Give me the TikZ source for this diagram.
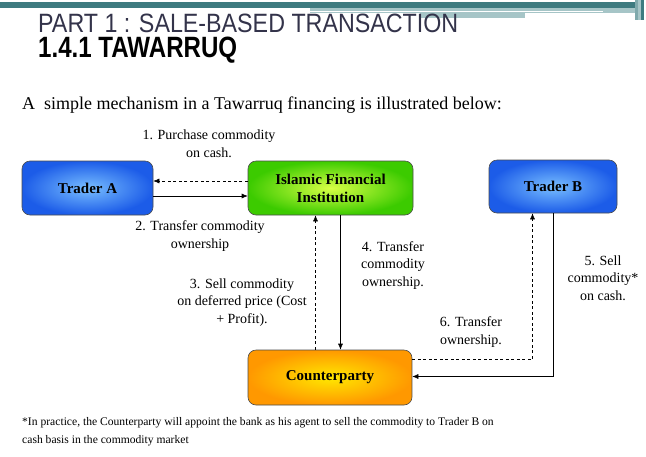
\documentclass[tikz,border=0pt]{standalone}
\usepackage{fontspec}
\setmainfont{Liberation Serif}
\newfontfamily\titlefont{Liberation Sans}
\usetikzlibrary{arrows.meta,decorations.pathmorphing}
\definecolor{tealdark}{HTML}{3E7B80}
\definecolor{teallight}{HTML}{A6C5C7}
\definecolor{tealmid}{HTML}{7FA9AC}
\definecolor{titlegray}{HTML}{33334A}
\definecolor{blueout}{HTML}{1C5CE8}
\definecolor{bluein}{HTML}{78BEFF}
\definecolor{greenout}{HTML}{3CCB00}
\definecolor{greenin}{HTML}{D8FF45}
\definecolor{orangeout}{HTML}{FF9800}
\definecolor{orangein}{HTML}{FFE800}
\newlength\introA
\newlength\introB
\newcommand\introfont{\fontsize{18}{20}\selectfont}
\tikzset{
  box/.style={draw=black!70, line width=0.6pt, rounded corners=8pt, align=center,
    font=\bfseries\fontsize{15}{18}\selectfont, inner sep=0pt},
  bluebox/.style={box, inner color=bluein, outer color=blueout},
  greenbox/.style={box, inner color=greenin, outer color=greenout},
  orangebox/.style={box, inner color=orangein, outer color=orangeout},
  arr/.style={-{Latex[length=6pt,width=5pt]}, line width=0.6pt},
  dasharr/.style={arr, dash pattern=on 3pt off 2.5pt},
  lbl/.style={font=\fontsize{14}{17.5}\selectfont, align=center, inner sep=0pt, anchor=base},
}
\begin{document}
\begin{tikzpicture}[x=1pt,y=-1pt]
\useasboundingbox (0,0) rectangle (646,456);
\fill[white] (0,0) rectangle (646,456);
% top band
\fill[tealdark] (0,2) rectangle (640,8);
\fill[teallight] (310,8) rectangle (640,13);
\fill[white] (310,10.5) rectangle (603,12);
\fill[teallight] (420,13) rectangle (525,18);
\fill[tealmid] (635,0) rectangle (638,20);
\fill[teallight] (638,0) rectangle (641,20);
\fill[tealdark] (641,0) rectangle (644,20);
% titles
\node[anchor=base west, inner sep=0pt, text=titlegray] (t1) at (38,32)
  {\resizebox{420pt}{18.5pt}{\titlefont PART 1 : SALE-BASED TRANSACTION}};
\node[anchor=base west, inner sep=0pt, text=black] (t2) at (38,57.5)
  {\resizebox{199pt}{20.5pt}{\titlefont\bfseries 1.4.1 TAWARRUQ}};
\settowidth\introA{\introfont A\ \ simple mechanism in a }
\settowidth\introB{\introfont Tawarruq}
\node[anchor=base west, inner sep=0pt, font=\introfont] (intro) at (22,109)
  {A\ \ simple mechanism in a Tawarruq financing is illustrated below:};
\draw[red, line width=0.5pt, decorate, decoration={snake, amplitude=0.6pt, segment length=2.5pt}]
  ([xshift=\introA, yshift=-4pt]intro.base west) -- ++(\introB,0pt);
% boxes
\node[bluebox, minimum width=131pt, minimum height=54pt] (ta) at (87.5,188) {Trader A};
\node[greenbox, minimum width=165pt, minimum height=54pt] (ifi) at (330.5,188) {Islamic Financial\\Institution};
\node[bluebox, minimum width=128pt, minimum height=53pt] (tb) at (553,186.5) {Trader B};
\node[orangebox, minimum width=164pt, minimum height=55pt] (cp) at (330,377.5) {Counterparty};
% helper coordinates
\coordinate (x3) at (315.5,0);
\coordinate (x4) at (340.5,0);
\coordinate (x6) at (532.5,0);
% connectors
\draw[dasharr] ([yshift=7pt]ifi.west) -- ([yshift=7pt]ta.east);
\draw[arr] ([yshift=-8pt]ta.east) -- ([yshift=-8pt]ifi.west);
\draw[dasharr] (cp.north -| x3) -- (ifi.south -| x3);
\draw[arr] (ifi.south -| x4) -- (cp.north -| x4);
\draw[arr] (tb.south) |- ([yshift=1pt]cp.east);
\draw[dasharr] ([yshift=18pt]cp.east) -| (tb.south -| x6);
% labels (anchor = baseline of last line)
\node[lbl] (l1) at (209,157) {1. Purchase commodity\\on cash.};
\node[lbl] (l2) at (200,248) {2. Transfer commodity\\ownership};
\node[lbl] (l3) at (242,323) {3. Sell commodity\\on deferred price (Cost\\+ Profit).};
\node[lbl] (l4) at (393,286) {4. Transfer\\commodity\\ownership.};
\node[lbl] (l5) at (603,300) {5. Sell\\commodity*\\on cash.};
\node[lbl] (l6) at (471,344) {6. Transfer\\ownership.};
% footnote
\node[anchor=base west, align=left, inner sep=0pt, font=\fontsize{11.6}{18}\selectfont] (fn) at (22,443)
  {*In practice, the Counterparty will appoint the bank as his agent to sell the commodity to Trader B on\\cash basis in the commodity market};
\end{tikzpicture}
\end{document}
